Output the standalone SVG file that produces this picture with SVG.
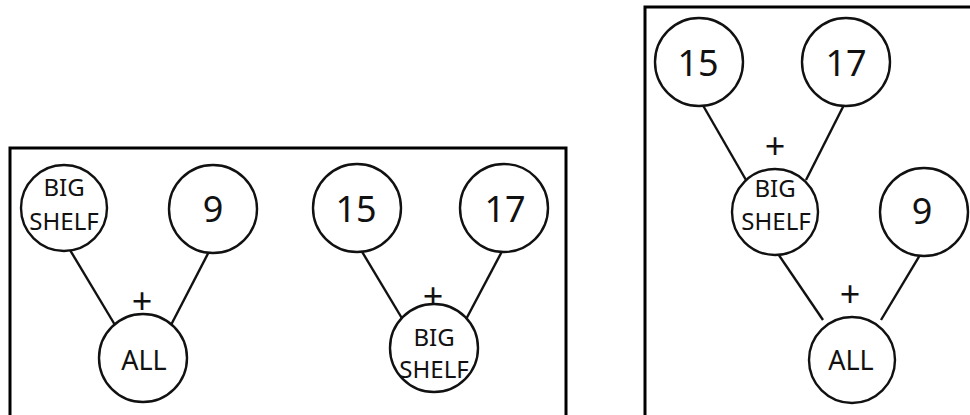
<svg xmlns="http://www.w3.org/2000/svg" width="970" height="415" viewBox="0 0 970 415">
<style>
.frame{fill:none;stroke:#000;stroke-width:3}
.node circle{fill:#fff;stroke:#111;stroke-width:2.4}
.edge{stroke:#111;stroke-width:2.4;fill:none}
text{font-family:"Noto Sans","Open Sans",sans-serif;fill:#111;text-anchor:middle}
.num{font-size:36px}
.lbl{font-size:24px}
.all{font-size:27px}
.plus{font-size:36px}
</style>
<rect class="frame" x="10" y="148" width="556" height="280"/>
<rect class="frame" x="645" y="7" width="340" height="420"/>
<g id="connectors">
<line class="edge" x1="64" y1="240" x2="115" y2="325"/>
<line class="edge" x1="215" y1="240" x2="171" y2="325"/>
<line class="edge" x1="355" y1="240" x2="406" y2="325"/>
<line class="edge" x1="508" y1="240" x2="463" y2="325"/>
<line class="edge" x1="697" y1="95" x2="746" y2="180"/>
<line class="edge" x1="849" y1="95" x2="806" y2="180"/>
<line class="edge" x1="772" y1="245" x2="823" y2="320"/>
<line class="edge" x1="926" y1="245" x2="881" y2="320"/>
</g>
<text class="plus" x="142" y="314">+</text>
<text class="plus" x="433" y="309">+</text>
<text class="plus" x="775" y="159">+</text>
<text class="plus" x="850" y="307">+</text>
<g id="n-bigshelf-1" class="node"><circle cx="64" cy="208" r="43"/><text class="lbl" x="64" y="196">BIG</text><text class="lbl" x="64" y="230">SHELF</text></g>
<g id="n-9-1" class="node"><circle cx="213" cy="209" r="44"/><text class="num" x="213" y="222">9</text></g>
<g id="n-all-1" class="node"><circle cx="143" cy="358" r="44"/><text class="all" x="144" y="370">ALL</text></g>
<g id="n-15-2" class="node"><circle cx="357" cy="208" r="44"/><text class="num" x="356" y="222">15</text></g>
<g id="n-17-2" class="node"><circle cx="504" cy="208" r="44"/><text class="num" x="505" y="222">17</text></g>
<g id="n-bigshelf-2" class="node"><circle cx="434" cy="348" r="44"/><text class="lbl" x="434" y="346">BIG</text><text class="lbl" x="434" y="378">SHELF</text></g>
<g id="n-15-3" class="node"><circle cx="699" cy="62" r="44"/><text class="num" x="698" y="76">15</text></g>
<g id="n-17-3" class="node"><circle cx="846" cy="62" r="44"/><text class="num" x="846" y="76">17</text></g>
<g id="n-bigshelf-3" class="node"><circle cx="775" cy="212" r="43"/><text class="lbl" x="775" y="197">BIG</text><text class="lbl" x="776" y="230">SHELF</text></g>
<g id="n-9-3" class="node"><circle cx="924" cy="212" r="44"/><text class="num" x="922" y="224">9</text></g>
<g id="n-all-3" class="node"><circle cx="852" cy="360" r="43"/><text class="all" x="851" y="370">ALL</text></g>
</svg>
